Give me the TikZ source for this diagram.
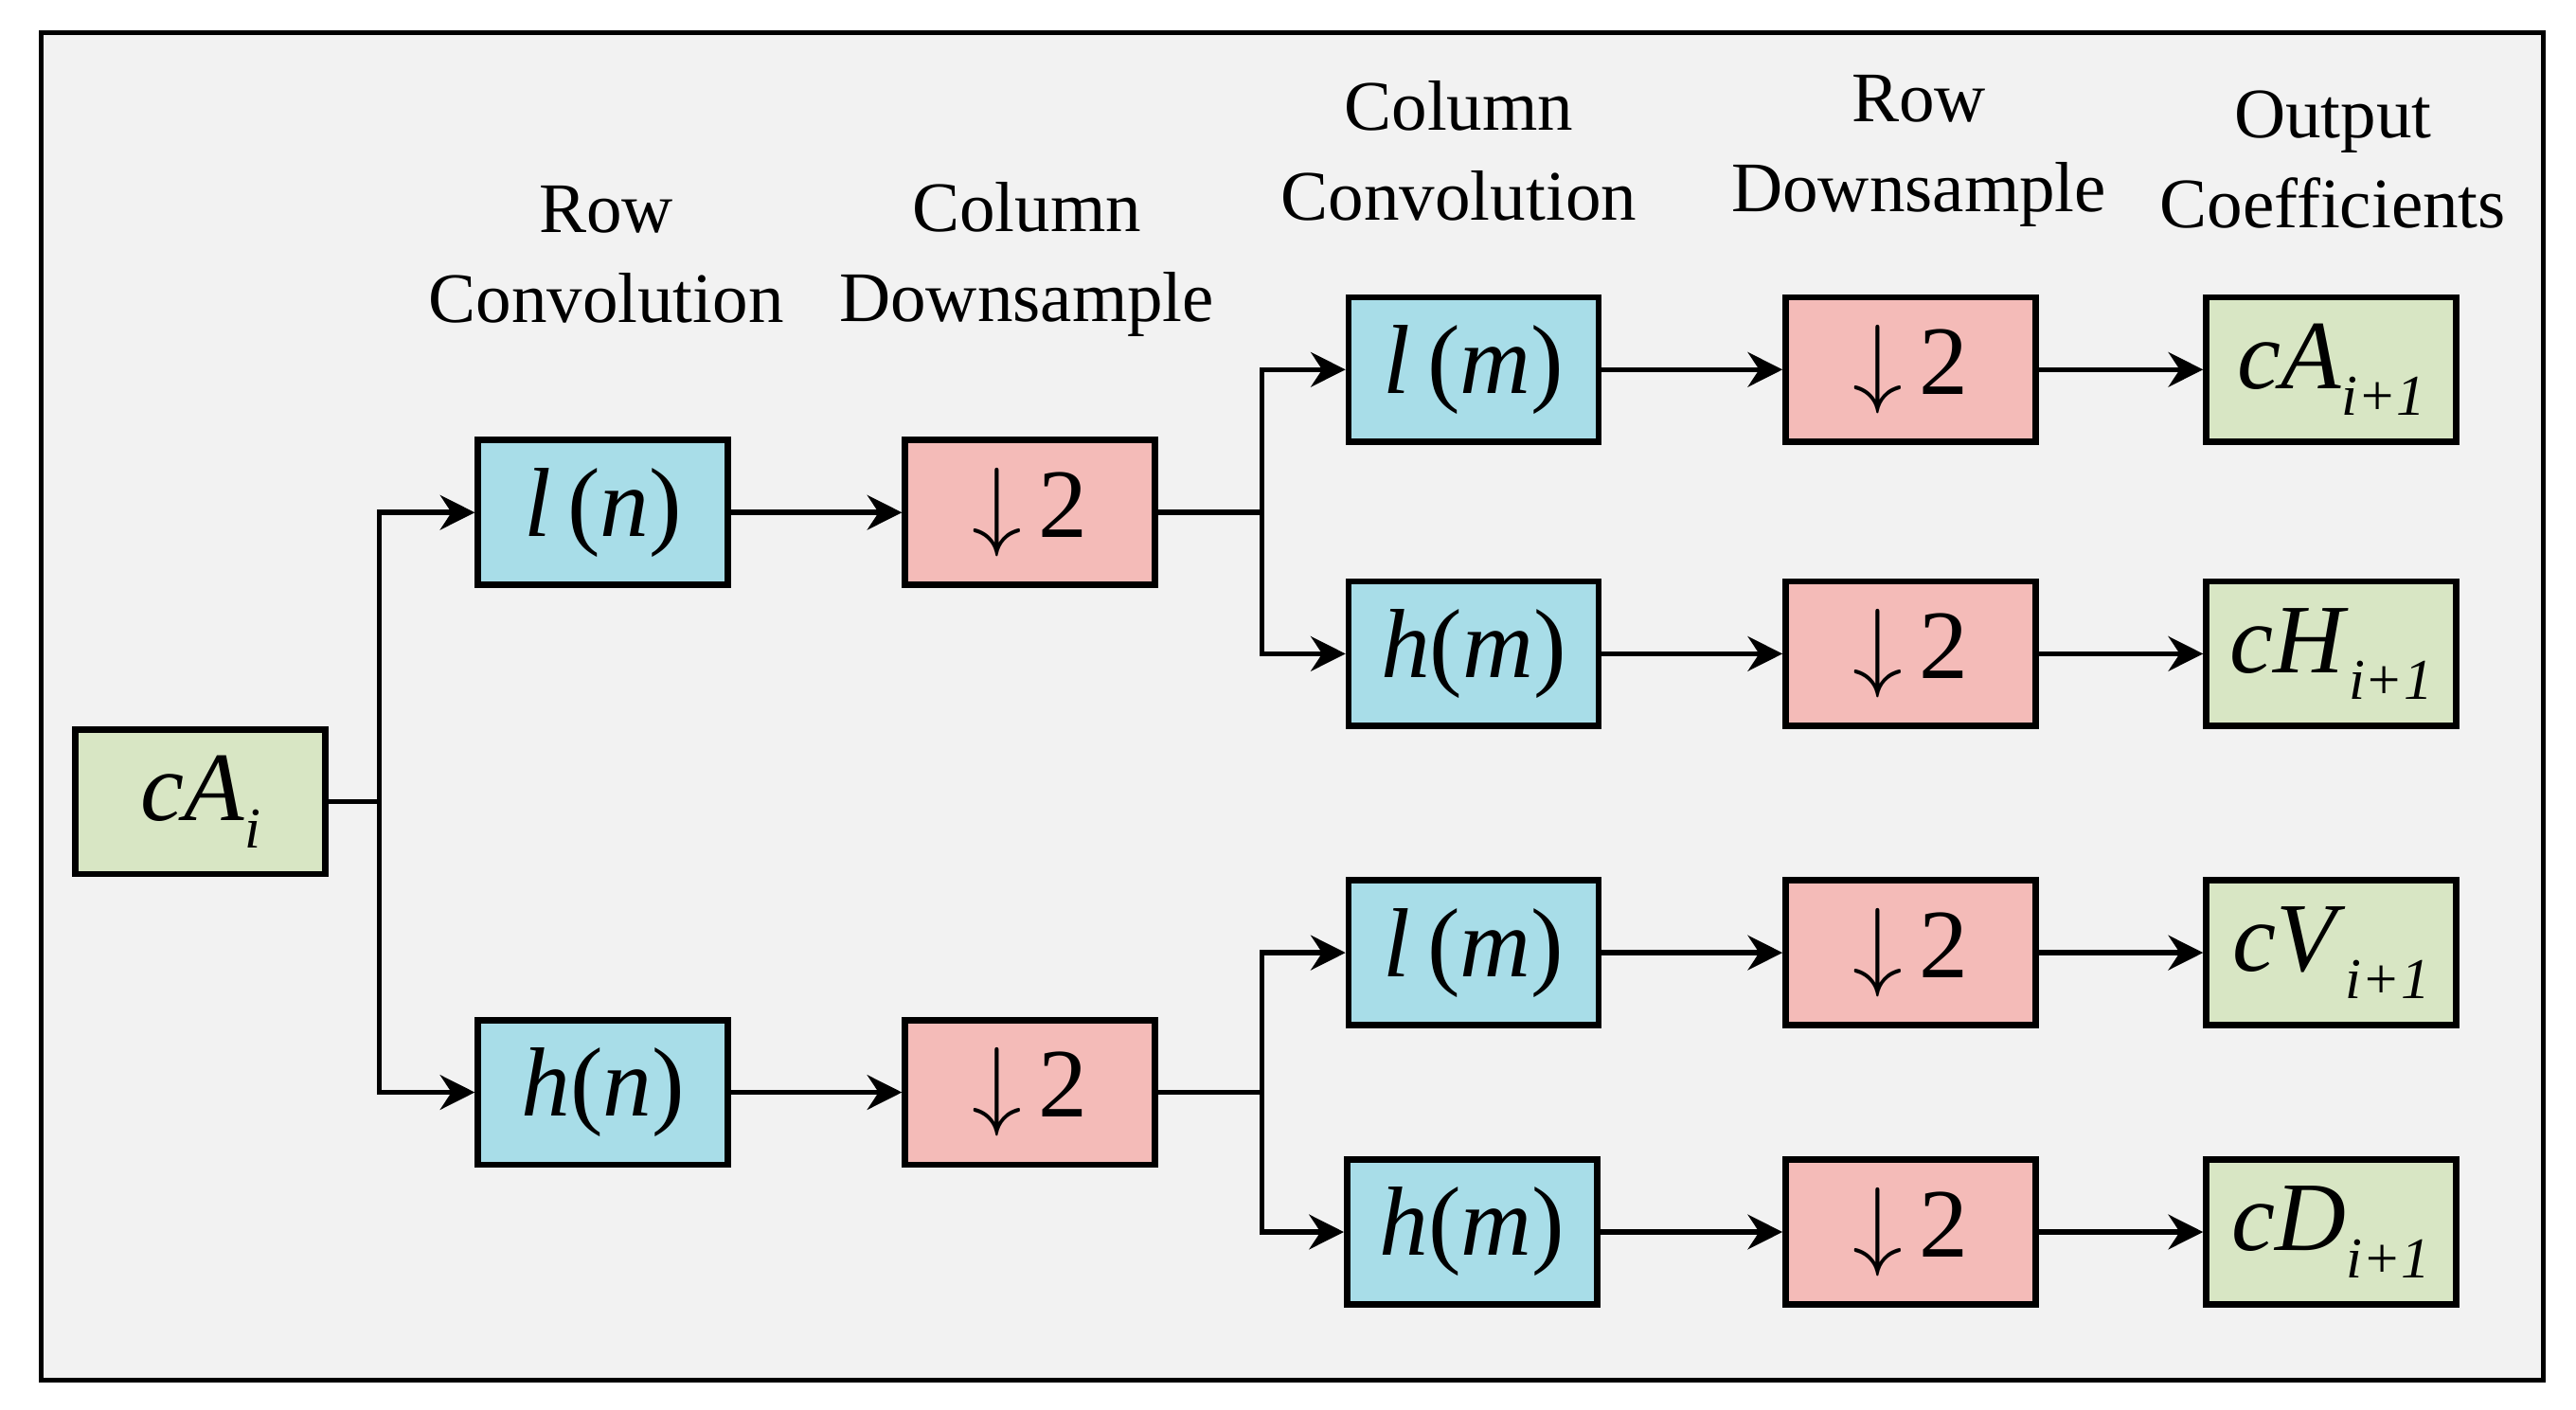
\documentclass[tikz,border=0pt]{standalone}
\usepackage{fontspec}
\setmainfont{Liberation Serif}
\usetikzlibrary{arrows.meta}
\definecolor{FilterBlue}{RGB}{168,221,232}
\definecolor{DownRed}{RGB}{244,187,184}
\definecolor{CoefGreen}{RGB}{216,230,196}
\definecolor{PanelGray}{RGB}{242,242,242}
\newcommand{\ix}[1]{\raisebox{-0.6ex}{\fontsize{10}{10}\selectfont\textit{#1}}}
\newcommand{\dn}{$\downarrow$\,2}
\begin{document}
\begin{tikzpicture}[x=0.01cm,y=-0.01cm,
	box/.style={draw, line width=1.1pt, minimum width=1.52cm, minimum height=0.88cm, inner sep=0pt, font=\fontsize{17}{17}\selectfont},
	filt/.style={box, fill=FilterBlue},
	down/.style={box, fill=DownRed},
	coef/.style={box, fill=CoefGreen},
	head/.style={align=center, font=\fontsize{12.3}{15.5}\selectfont},
	link/.style={line width=0.9pt, -{Stealth[length=6pt,width=6pt]}},
	wire/.style={line width=0.9pt}]
	\useasboundingbox (0,0) rectangle (1568,858);
	\draw[fill=PanelGray, line width=0.8pt] (25,20) rectangle (1548,840);
	% column titles
	\node[head] (t1) at (369,155) {Row\\Convolution};
	\node[head] (t2) at (625,158) {Column\\Downsample};
	\node[head] (t3) at (888,92) {Column\\Convolution};
	\node[head] (t4) at (1168,92) {Row\\Downsample};
	\node[head] (t5) at (1420,97) {Output\\Coefficients};
	% boxes
	\node[coef] (ca) at (122,488) {\textit{cA}\ix{i}};
	\node[filt] (ln) at (367,312) {\textit{l}\,(\textit{n})};
	\node[filt] (hn) at (367,665) {\textit{h}(\textit{n})};
	\node[down] (d1) at (627,312) {\dn};
	\node[down] (d2) at (627,665) {\dn};
	\node[filt] (lm1) at (897,225) {\textit{l}\,(\textit{m})};
	\node[filt] (hm1) at (897,398) {\textit{h}(\textit{m})};
	\node[filt] (lm2) at (897,580) {\textit{l}\,(\textit{m})};
	\node[filt] (hm2) at (896,750) {\textit{h}(\textit{m})};
	\node[down] (r1) at (1163,225) {\dn};
	\node[down] (r2) at (1163,398) {\dn};
	\node[down] (r3) at (1163,580) {\dn};
	\node[down] (r4) at (1163,750) {\dn};
	\node[coef] (oa) at (1419,225) {\textit{cA}\ix{i+1}};
	\node[coef] (oh) at (1419,398) {\textit{cH}\ix{i+1}};
	\node[coef] (ov) at (1419,580) {\textit{cV}\ix{i+1}};
	\node[coef] (od) at (1419,750) {\textit{cD}\ix{i+1}};
	% split points
	\coordinate (s0) at (231,488);
	\coordinate (s1) at (768,312);
	\coordinate (s2) at (768,665);
	\draw[wire] (ca) -- (s0);
	\draw[link] (s0) |- (ln);
	\draw[link] (s0) |- (hn);
	\draw[link] (ln) -- (d1);
	\draw[link] (hn) -- (d2);
	\draw[wire] (d1) -- (s1);
	\draw[wire] (d2) -- (s2);
	\draw[link] (s1) |- (lm1);
	\draw[link] (s1) |- (hm1);
	\draw[link] (s2) |- (lm2);
	\draw[link] (s2) |- (hm2);
	\draw[link] (lm1) -- (r1);
	\draw[link] (hm1) -- (r2);
	\draw[link] (lm2) -- (r3);
	\draw[link] (hm2) -- (r4);
	\draw[link] (r1) -- (oa);
	\draw[link] (r2) -- (oh);
	\draw[link] (r3) -- (ov);
	\draw[link] (r4) -- (od);
\end{tikzpicture}
\end{document}
